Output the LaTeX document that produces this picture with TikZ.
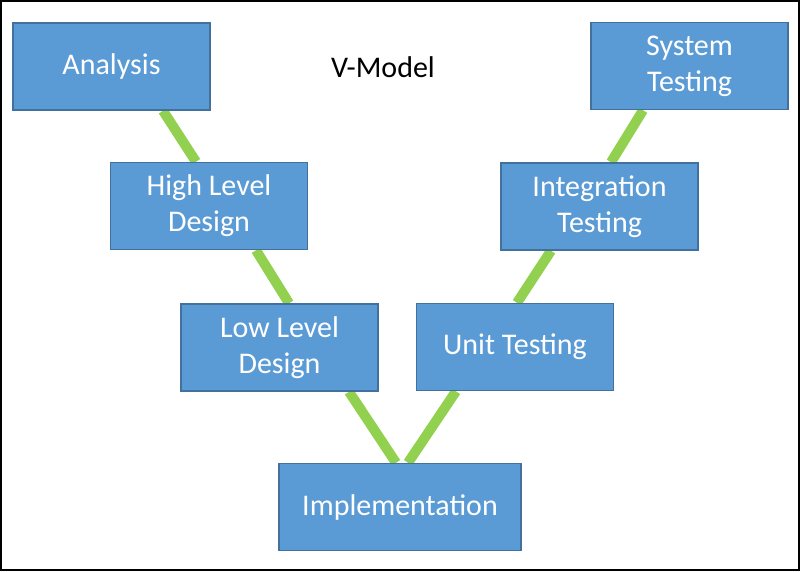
\documentclass[tikz,border=0pt]{standalone}
\usepackage{fontspec}
\setmainfont{Carlito}
\usetikzlibrary{backgrounds}
\definecolor{boxblue}{HTML}{5B9BD5}
\definecolor{boxedge}{HTML}{41719C}
\definecolor{vgreen}{HTML}{92D050}
\begin{document}
\begin{tikzpicture}[x=1pt,y=-1pt,
  phase/.style={draw=boxedge, line width=1.5pt, fill=boxblue, text=white,
    minimum width=197pt, minimum height=87pt, inner sep=0pt, align=center,
    font=\fontsize{30pt}{36pt}\selectfont},
  link/.style={draw=vgreen, line width=10pt}]
\useasboundingbox (0,0) rectangle (800,571);
\draw[line width=2pt, black] (1,1) rectangle (799,570);
\node[phase] (ana) at (111.5,66.5) {Analysis};
\node[phase] (hld) at (209,206) {High Level\\Design};
\node[phase] (lld) at (279.5,347.5) {Low Level\\Design};
\node[phase, minimum width=242pt] (impl) at (400,507) {Implementation};
\node[phase] (unit) at (515,347) {Unit Testing};
\node[phase] (integ) at (599.5,206.5) {Integration\\Testing};
\node[phase] (sys) at (689.5,66) {System\\Testing};
\node[font=\fontsize{30pt}{36pt}\selectfont, text=black] (title) at (383,67) {V-Model};
\begin{scope}[on background layer]
\draw[link] ([xshift=51.5pt]ana.south) -- ([xshift=-13pt]hld.north);
\draw[link] ([xshift=47pt]hld.south) -- ([xshift=9.5pt]lld.north);
\draw[link] ([xshift=69.5pt]lld.south) -- ([xshift=-4pt]impl.north);
\draw[link] ([xshift=-59pt]unit.south) -- ([xshift=8pt]impl.north);
\draw[link] ([xshift=-48.5pt]integ.south) -- ([xshift=2pt]unit.north);
\draw[link] ([xshift=-46.5pt]sys.south) -- ([xshift=11.5pt]integ.north);
\end{scope}
\end{tikzpicture}
\end{document}
